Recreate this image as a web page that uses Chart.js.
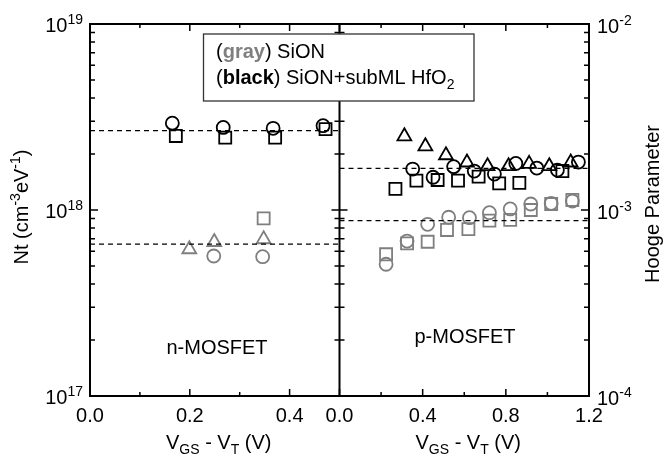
<!DOCTYPE html>
<html>
<head>
<meta charset="utf-8">
<script src="https://cdn.jsdelivr.net/npm/chart.js@4.4.1/dist/chart.umd.min.js"></script>
<style>
  body { margin: 0; background: #fff; }
  canvas { display: block; }
</style>
</head>
<body>
<canvas id="myChart" width="663" height="456"></canvas>
<script>
// n-MOSFET panel (left), Nt in cm^-3 eV^-1
const nBlackCircleX = [0.165, 0.267, 0.367, 0.467];
const nBlackCircleY = [2.93e18, 2.78e18, 2.75e18, 2.84e18];
const nBlackSquareX = [0.172, 0.271, 0.371, 0.472];
const nBlackSquareY = [2.50e18, 2.45e18, 2.45e18, 2.72e18];
const nGrayTriangleX = [0.199, 0.249, 0.348];
const nGrayTriangleY = [6.15e17, 6.73e17, 6.96e17];
const nGrayCircleX = [0.248, 0.346];
const nGrayCircleY = [5.66e17, 5.61e17];
const nGraySquareX = [0.348];
const nGraySquareY = [9.02e17];
const nFitX = [0, 0.5];
const nBlackFit = 2.67e18;
const nGrayFit = 6.56e17;

// p-MOSFET panel (right), Hooge parameter
const pBlackTriangleX = [0.312, 0.413, 0.512, 0.613, 0.712, 0.813, 0.912, 1.009, 1.112];
const pBlackTriangleY = [2.49e-3, 2.20e-3, 1.97e-3, 1.80e-3, 1.72e-3, 1.72e-3, 1.77e-3, 1.72e-3, 1.80e-3];
const pBlackCircleX = [0.352, 0.450, 0.549, 0.648, 0.745, 0.848, 0.949, 1.048, 1.149];
const pBlackCircleY = [1.66e-3, 1.50e-3, 1.71e-3, 1.62e-3, 1.56e-3, 1.78e-3, 1.68e-3, 1.64e-3, 1.81e-3];
const pBlackSquareX = [0.269, 0.370, 0.472, 0.570, 0.669, 0.768, 0.865, 1.072];
const pBlackSquareY = [1.30e-3, 1.44e-3, 1.45e-3, 1.44e-3, 1.51e-3, 1.39e-3, 1.40e-3, 1.62e-3];
const pGrayCircleX = [0.224, 0.325, 0.424, 0.525, 0.625, 0.721, 0.821, 0.920, 1.018, 1.120];
const pGrayCircleY = [5.11e-4, 6.81e-4, 8.38e-4, 9.14e-4, 9.09e-4, 9.67e-4, 1.013e-3, 1.077e-3, 1.086e-3, 1.118e-3];
const pGraySquareX = [0.224, 0.325, 0.424, 0.517, 0.620, 0.721, 0.821, 0.920, 1.018, 1.120];
const pGraySquareY = [5.78e-4, 6.62e-4, 6.75e-4, 7.81e-4, 7.90e-4, 8.76e-4, 8.84e-4, 1.0e-3, 1.077e-3, 1.132e-3];
const pFitX = [0, 1.2];
const pBlackFit = 1.676e-3;
const pGrayFit = 8.76e-4;

// tick marks and labels
const xLMajor = [0, 0.2, 0.4];
const xLMinor = [0.1, 0.3];
const xLLabels = ['0.0', '0.2', '0.4'];
const xRMajor = [0, 0.4, 0.8, 1.2];
const xRMinor = [0.2, 0.6, 1.0];
const xRLabels = ['0.0', '0.4', '0.8', '1.2'];
const ntDecades = [1e17, 1e18, 1e19];
const ntExponents = ['17', '18', '19'];
const hoogeDecades = [1e-4, 1e-3, 1e-2];
const hoogeExponents = ['-4', '-3', '-2'];
const mantissas = [2, 3, 4, 5, 6, 7, 8, 9];

const FONT = '"Liberation Sans", Arial, sans-serif';
const GRAY = '#7f7f7f';

function pts(xs, ys) {
    return xs.map((x, i) => ({ x: x, y: ys[i] }));
}

function marker(label, xs, ys, style, color, r, xAxis, yAxis) {
    return {
        label: label,
        data: pts(xs, ys),
        xAxisID: xAxis,
        yAxisID: yAxis,
        pointStyle: style,
        pointRadius: r,
        borderColor: color,
        backgroundColor: 'rgba(0,0,0,0)',
        borderWidth: 1.8,
        showLine: false
    };
}

function fitLine(label, xs, value, xAxis, yAxis) {
    return {
        label: label,
        data: xs.map(x => ({ x: x, y: value })),
        xAxisID: xAxis,
        yAxisID: yAxis,
        showLine: true,
        borderColor: '#000',
        borderWidth: 1.2,
        borderDash: [5, 4],
        pointRadius: 0,
        fill: false
    };
}

// draws text made of pieces: [text, size, dy, bold, color]
function drawRich(ctx, parts, x, y, align) {
    let total = 0;
    parts.forEach(p => {
        ctx.font = (p[3] ? 'bold ' : '') + p[1] + 'px ' + FONT;
        total += ctx.measureText(p[0]).width;
    });
    let cx = align === 'center' ? x - total / 2 : align === 'right' ? x - total : x;
    ctx.textAlign = 'left';
    ctx.textBaseline = 'alphabetic';
    parts.forEach(p => {
        ctx.font = (p[3] ? 'bold ' : '') + p[1] + 'px ' + FONT;
        ctx.fillStyle = p[4] || '#000';
        ctx.fillText(p[0], cx, y + p[2]);
        cx += ctx.measureText(p[0]).width;
    });
}

// frame, inward ticks, labels, legend box and panel names
const framePlugin = {
    id: 'frame',
    afterDraw(chart) {
        const ctx = chart.ctx;
        const a = chart.chartArea;
        const xL = chart.scales.xL, xR = chart.scales.xR;
        const yN = chart.scales.yN, yH = chart.scales.yH;
        const mid = xR.left;
        ctx.save();
        ctx.strokeStyle = '#000';

        // ticks
        ctx.lineWidth = 1.5;
        ctx.beginPath();
        function xTick(scale, v, len) {
            const px = scale.getPixelForValue(v);
            ctx.moveTo(px, a.bottom); ctx.lineTo(px, a.bottom - len);
            ctx.moveTo(px, a.top); ctx.lineTo(px, a.top + len);
        }
        xLMinor.forEach(v => xTick(xL, v, 4));
        xLMajor.forEach(v => xTick(xL, v, 7));
        xRMinor.forEach(v => xTick(xR, v, 4));
        xRMajor.forEach(v => xTick(xR, v, 7));
        function yTick(py, len) {
            ctx.moveTo(a.left, py); ctx.lineTo(a.left + len, py);
            ctx.moveTo(mid - len, py); ctx.lineTo(mid + len, py);
            ctx.moveTo(a.right, py); ctx.lineTo(a.right - len, py);
        }
        ntDecades.forEach((d, i) => {
            yTick(yN.getPixelForValue(d), 8);
            if (i < ntDecades.length - 1) {
                mantissas.forEach(m => yTick(yN.getPixelForValue(m * d), 5));
            }
        });
        ctx.stroke();

        // frame and divider
        ctx.lineWidth = 2;
        ctx.strokeRect(a.left, a.top, a.right - a.left, a.bottom - a.top);
        ctx.beginPath();
        ctx.moveTo(mid, a.top); ctx.lineTo(mid, a.bottom);
        ctx.stroke();

        // x tick labels
        ctx.fillStyle = '#000';
        ctx.font = '20px ' + FONT;
        ctx.textAlign = 'center';
        ctx.textBaseline = 'alphabetic';
        xLMajor.forEach((v, i) => ctx.fillText(xLLabels[i], xL.getPixelForValue(v), a.bottom + 26));
        xRMajor.forEach((v, i) => ctx.fillText(xRLabels[i], xR.getPixelForValue(v), a.bottom + 26));

        // y tick labels with exponents
        ntDecades.forEach((d, i) => {
            const py = yN.getPixelForValue(d);
            drawRich(ctx, [['10', 20, 0], [ntExponents[i], 14, -8]], a.left - 7, py + 8, 'right');
        });
        hoogeDecades.forEach((d, i) => {
            const py = yH.getPixelForValue(d);
            drawRich(ctx, [['10', 20, 0], [hoogeExponents[i], 14, -8]], a.right + 8, py + 9, 'left');
        });

        // x axis titles
        const title = [['V', 20, 0], ['GS', 14, 5], [' - V', 20, 0], ['T', 14, 5], [' (V)', 20, 0]];
        drawRich(ctx, title, (a.left + mid) / 2 + 4, 449, 'center');
        drawRich(ctx, title, (mid + a.right) / 2 + 4, 449, 'center');

        // y axis titles
        ctx.save();
        ctx.translate(28, (a.top + a.bottom) / 2);
        ctx.rotate(-Math.PI / 2);
        drawRich(ctx, [['Nt (cm', 20, 0], ['-3', 14, -8], ['eV', 20, 0], ['-1', 14, -8], [')', 20, 0]], 3, 0, 'center');
        ctx.restore();
        ctx.save();
        ctx.translate(659, (a.top + a.bottom) / 2);
        ctx.rotate(-Math.PI / 2);
        drawRich(ctx, [['Hooge Parameter', 20, 0]], 6, 0, 'center');
        ctx.restore();

        // legend box
        ctx.fillStyle = '#fff';
        ctx.fillRect(203.5, 34, 270.5, 67);
        ctx.lineWidth = 1.3;
        ctx.strokeStyle = '#333';
        ctx.strokeRect(203.5, 34, 270.5, 67);
        drawRich(ctx, [['(', 20, 0], ['gray', 20, 0, true, GRAY], [') SiON', 20, 0]], 216, 57.5, 'left');
        drawRich(ctx, [['(', 20, 0], ['black', 20, 0, true], [') SiON+subML HfO', 20, 0], ['2', 14, 5]], 216, 83.5, 'left');

        // panel names
        drawRich(ctx, [['n-MOSFET', 20, 0]], 217, 353.5, 'center');
        drawRich(ctx, [['p-MOSFET', 20, 0]], 465, 342.5, 'center');
        ctx.restore();
    }
};

const ctx = document.getElementById('myChart').getContext('2d');

const myChart = new Chart(ctx, {
    type: 'scatter',
    data: {
        datasets: [
            fitLine('n black fit', nFitX, nBlackFit, 'xL', 'yN'),
            fitLine('n gray fit', nFitX, nGrayFit, 'xL', 'yN'),
            fitLine('p black fit', pFitX, pBlackFit, 'xR', 'yH'),
            fitLine('p gray fit', pFitX, pGrayFit, 'xR', 'yH'),
            marker('n SiON triangle', nGrayTriangleX, nGrayTriangleY, 'triangle', GRAY, 8, 'xL', 'yN'),
            marker('n SiON circle', nGrayCircleX, nGrayCircleY, 'circle', GRAY, 6.5, 'xL', 'yN'),
            marker('n SiON square', nGraySquareX, nGraySquareY, 'rect', GRAY, 8.5, 'xL', 'yN'),
            marker('n HfO2 circle', nBlackCircleX, nBlackCircleY, 'circle', '#000', 6.5, 'xL', 'yN'),
            marker('n HfO2 square', nBlackSquareX, nBlackSquareY, 'rect', '#000', 8.5, 'xL', 'yN'),
            marker('p SiON circle', pGrayCircleX, pGrayCircleY, 'circle', GRAY, 6.5, 'xR', 'yH'),
            marker('p SiON square', pGraySquareX, pGraySquareY, 'rect', GRAY, 8.5, 'xR', 'yH'),
            marker('p HfO2 square', pBlackSquareX, pBlackSquareY, 'rect', '#000', 8.5, 'xR', 'yH'),
            marker('p HfO2 circle', pBlackCircleX, pBlackCircleY, 'circle', '#000', 6.5, 'xR', 'yH'),
            marker('p HfO2 triangle', pBlackTriangleX, pBlackTriangleY, 'triangle', '#000', 8, 'xR', 'yH')
        ]
    },
    options: {
        responsive: false,
        animation: false,
        layout: {
            padding: { left: 90, top: 24, right: 74, bottom: 60 }
        },
        plugins: {
            legend: { display: false },
            tooltip: { enabled: false }
        },
        scales: {
            // two x scales side by side on the bottom
            xL: { type: 'linear', position: 'bottom', stack: 'vgs', stackWeight: 1, min: 0, max: 0.5, display: false },
            xR: { type: 'linear', position: 'bottom', stack: 'vgs', stackWeight: 1, min: 0, max: 1.2, display: false },
            yN: { type: 'logarithmic', position: 'left', min: 1e17, max: 1e19, display: false },
            yH: { type: 'logarithmic', position: 'right', min: 1e-4, max: 1e-2, display: false }
        }
    },
    plugins: [framePlugin]
});
</script>
</body>
</html>
